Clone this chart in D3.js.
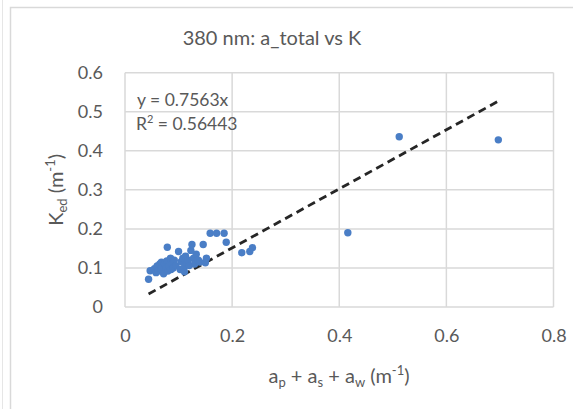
<!DOCTYPE html>
<html>
<head>
<meta charset="utf-8">
<script src="https://cdn.jsdelivr.net/npm/d3@7"></script>
<style>
  html, body { margin: 0; padding: 0; background: #fff; }
  svg { display: block; }
  text { font-family: Lato, "Open Sans", sans-serif; fill: #595959; }
</style>
</head>
<body>
<svg id="chart" width="573" height="409"></svg>
<script>
// ---- data ----
const titleText = "380 nm: a_total vs K";
const xTicks = [0, 0.2, 0.4, 0.6, 0.8];
const yTicks = [0, 0.1, 0.2, 0.3, 0.4, 0.5, 0.6];
const slope = 0.7563;
const r2 = "0.56443";
const xValues = [
  0.044, 0.047, 0.055, 0.058, 0.060, 0.062, 0.065, 0.067, 0.068, 0.070,
  0.072, 0.074, 0.076, 0.078, 0.079, 0.080, 0.082, 0.085, 0.086, 0.088,
  0.090, 0.092, 0.095, 0.100, 0.103, 0.105, 0.108, 0.110, 0.111, 0.113,
  0.115, 0.118, 0.120, 0.123, 0.125, 0.128, 0.130, 0.133, 0.137, 0.140,
  0.146, 0.150, 0.152, 0.159, 0.171, 0.185, 0.189, 0.218, 0.233, 0.238,
  0.416, 0.512, 0.697
];
const yValues = [
  0.071, 0.093, 0.098, 0.088, 0.105, 0.092, 0.110, 0.097, 0.115, 0.102,
  0.085, 0.112, 0.098, 0.118, 0.153, 0.092, 0.105, 0.125, 0.096, 0.110,
  0.100, 0.120, 0.106, 0.142, 0.096, 0.116, 0.125, 0.100, 0.090, 0.130,
  0.112, 0.120, 0.106, 0.145, 0.160, 0.125, 0.110, 0.135, 0.120, 0.115,
  0.160, 0.113, 0.125, 0.189, 0.189, 0.189, 0.166, 0.139, 0.142, 0.152,
  0.190, 0.436, 0.428
];

// ---- layout ----
const svg = d3.select("#chart");
const plot = { left: 125, right: 553.5, top: 72.7, bottom: 307 };
const x = d3.scaleLinear().domain([0, 0.8]).range([plot.left, plot.right]);
const y = d3.scaleLinear().domain([0, 0.6]).range([plot.bottom, plot.top]);
const gridColor = "#d9d9d9";
const textColor = "#505050";

// chart border
svg.append("rect").attr("x", 10.5).attr("y", 7.5).attr("width", 600).attr("height", 500)
  .attr("fill", "none").attr("stroke", gridColor).attr("stroke-width", 1.5);
svg.append("line").attr("x1", 2.5).attr("x2", 2.5).attr("y1", 0).attr("y2", 409)
  .attr("stroke", "#e6e6e6").attr("stroke-width", 1);

// gridlines
svg.append("g").selectAll("line").data(yTicks).join("line")
  .attr("x1", plot.left).attr("x2", plot.right)
  .attr("y1", d => y(d)).attr("y2", d => y(d))
  .attr("stroke", gridColor).attr("stroke-width", 1.5);
svg.append("g").selectAll("line").data(xTicks).join("line")
  .attr("y1", plot.top).attr("y2", plot.bottom)
  .attr("x1", d => x(d)).attr("x2", d => x(d))
  .attr("stroke", gridColor).attr("stroke-width", 1.5);

// axes labels via d3 axes (no lines)
const yAxis = svg.append("g").attr("transform", `translate(${plot.left},0)`)
  .call(d3.axisLeft(y).tickValues(yTicks).tickFormat(d3.format("")).tickSize(0).tickPadding(22));
const xAxis = svg.append("g").attr("transform", `translate(0,${plot.bottom})`)
  .call(d3.axisBottom(x).tickValues(xTicks).tickFormat(d3.format("")).tickSize(0).tickPadding(22));
[yAxis, xAxis].forEach(g => {
  g.select(".domain").remove();
  g.selectAll("text").attr("font-family", "Lato, sans-serif").attr("font-size", 18).attr("fill", textColor);
});

// trendline across data range
const xr = d3.extent(xValues);
svg.append("line")
  .attr("x1", x(xr[0])).attr("y1", y(slope * xr[0]))
  .attr("x2", x(xr[1])).attr("y2", y(slope * xr[1]))
  .attr("stroke", "#262626").attr("stroke-width", 2.8)
  .attr("stroke-dasharray", "8,5");

// points
const pts = xValues.map((v, i) => [v, yValues[i]]);
svg.append("g").selectAll("circle").data(pts).join("circle")
  .attr("cx", d => x(d[0])).attr("cy", d => y(d[1])).attr("r", 3.7)
  .attr("fill", "#4a7ec6");

// title
svg.append("text").attr("x", 272).attr("y", 45).attr("text-anchor", "middle")
  .attr("font-size", 20).attr("fill", "#3a3a3a").text(titleText);

// equation
const eq = svg.append("text").attr("x", 137).attr("y", 106).attr("font-size", 17.5).attr("fill", "#3a3a3a");
eq.text(`y = ${slope}x`);
const r2t = svg.append("text").attr("x", 136).attr("y", 130).attr("font-size", 17.5).attr("fill", "#3a3a3a");
r2t.append("tspan").text("R");
r2t.append("tspan").attr("font-size", 11).attr("dy", -7).text("2");
r2t.append("tspan").attr("dy", 7).text(` = ${r2}`);

// x axis title
const xt = svg.append("text").attr("x", 339).attr("y", 383).attr("text-anchor", "middle")
  .attr("font-size", 20).attr("fill", textColor);
xt.append("tspan").text("a");
xt.append("tspan").attr("font-size", 13).attr("dy", 4).text("p");
xt.append("tspan").attr("dy", -4).text(" + a");
xt.append("tspan").attr("font-size", 13).attr("dy", 4).text("s");
xt.append("tspan").attr("dy", -4).text(" + a");
xt.append("tspan").attr("font-size", 13).attr("dy", 4).text("w");
xt.append("tspan").attr("dy", -4).text(" (m");
xt.append("tspan").attr("font-size", 13).attr("dy", -8).text("-1");
xt.append("tspan").attr("dy", 8).text(")");

// y axis title
const yt = svg.append("text").attr("transform", `translate(63,${(plot.top + plot.bottom) / 2}) rotate(-90)`)
  .attr("text-anchor", "middle").attr("font-size", 20).attr("fill", textColor);
yt.append("tspan").text("K");
yt.append("tspan").attr("font-size", 13).attr("dy", 4).text("ed");
yt.append("tspan").attr("dy", -4).text(" (m");
yt.append("tspan").attr("font-size", 13).attr("dy", -8).text("-1");
yt.append("tspan").attr("dy", 8).text(")");
</script>
</body>
</html>
